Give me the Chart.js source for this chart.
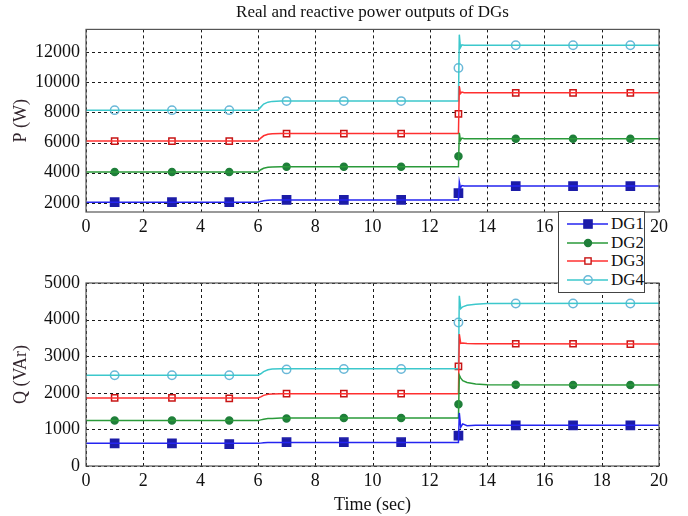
<!DOCTYPE html>
<html>
<head>
<meta charset="utf-8">
<script src="https://cdn.jsdelivr.net/npm/chart.js@4"></script>
<style>
  body { margin: 0; background: #fff; }
  #wrap { position: relative; width: 688px; height: 516px; }
  #cP { position: absolute; left: 0; top: 0; }
  #cQ { position: absolute; left: 0; top: 250px; }
  #legend {
    position: absolute; left: 558px; top: 211px; width: 87px; height: 82px;
    box-sizing: border-box; border: 1px solid #444; background: #fff;
    font-family: "Liberation Serif", "Times New Roman", serif; font-size: 17px; color: #111;
  }
  .row { position: absolute; left: 0; height: 18px; width: 86px; }
  .row svg { position: absolute; left: 6px; top: 2px; }
  .row span { position: absolute; left: 52px; top: -1px; line-height: 20px; }
</style>
</head>
<body>
<div id="wrap">
  <canvas id="cP" width="688" height="250"></canvas>
  <canvas id="cQ" width="688" height="266"></canvas>
  <div id="legend"></div>
</div>
<script>
const names = ['DG1', 'DG2', 'DG3', 'DG4'];
const xTicks = [0, 2, 4, 6, 8, 10, 12, 14, 16, 18, 20];
const yTicksP = [2000, 4000, 6000, 8000, 10000, 12000];
const yTicksQ = [0, 1000, 2000, 3000, 4000, 5000];

// trace of real power (W)
const tP = [0, 6, 6.1, 6.2, 6.35, 6.5, 6.8, 13, 13.03, 13.07, 13.12, 13.2, 20];
const p1 = [2050, 2050, 2100, 2150, 2180, 2195, 2200, 2200, 3400, 3000, 3150, 3120, 3120];
const p2 = [4050, 4050, 4200, 4300, 4360, 4385, 4400, 4400, 6650, 6150, 6300, 6250, 6250];
const p3 = [6100, 6100, 6300, 6450, 6550, 6590, 6600, 6600, 9750, 9250, 9350, 9300, 9300];
const p4 = [8150, 8150, 8350, 8550, 8680, 8730, 8750, 8750, 13150, 12300, 12480, 12450, 12450];

// trace of reactive power (VAr)
const tQ = [0, 6, 6.1, 6.2, 6.35, 6.5, 6.8, 13, 13.03, 13.08, 13.15, 13.3, 13.6, 14, 20];
const q1 = [620, 620, 625, 635, 640, 645, 645, 645, 1450, 1060, 1150, 1100, 1110, 1110, 1110];
const q2 = [1240, 1240, 1260, 1280, 1295, 1300, 1310, 1310, 2480, 2400, 2330, 2280, 2240, 2220, 2210];
const q3 = [1860, 1860, 1890, 1930, 1960, 1970, 1975, 1975, 3600, 3350, 3360, 3350, 3340, 3340, 3330];
const q4 = [2480, 2480, 2520, 2580, 2630, 2650, 2655, 2655, 4650, 4300, 4350, 4390, 4420, 4440, 4450];

// marker samples
const tM = [1, 3, 5, 7, 9, 11, 13, 15, 17, 19];
const mP1 = [2050, 2050, 2050, 2200, 2200, 2200, 2650, 3120, 3120, 3120];
const mP2 = [4050, 4050, 4050, 4400, 4400, 4400, 5100, 6250, 6250, 6250];
const mP3 = [6100, 6100, 6100, 6600, 6600, 6600, 7900, 9300, 9300, 9300];
const mP4 = [8150, 8150, 8150, 8750, 8750, 8750, 10950, 12450, 12450, 12450];
const mQ1 = [620, 620, 600, 650, 650, 650, 830, 1110, 1110, 1110];
const mQ2 = [1240, 1240, 1240, 1300, 1310, 1310, 1690, 2220, 2210, 2210];
const mQ3 = [1860, 1860, 1850, 1975, 1975, 1975, 2720, 3340, 3340, 3330];
const mQ4 = [2480, 2480, 2480, 2640, 2650, 2650, 3920, 4440, 4440, 4440];

const styles = [
  { line: '#2424f0', edge: '#1c1ca8', fill: '#1c1ca8', shape: 'rect', r: 5.8 },
  { line: '#2a9a3a', edge: '#1f7f3a', fill: '#1f7f3a', shape: 'circle', r: 3.5 },
  { line: '#ff3030', edge: '#c81414', fill: '#ffffff', shape: 'rect', r: 4.4 },
  { line: '#3cc8cc', edge: '#6ab8d8', fill: 'rgba(255,255,255,0)', shape: 'circle', r: 4.2 }
];
const serif = '"Liberation Serif", "Times New Roman", serif';

function pts(xs, ys) { return xs.map((x, i) => ({ x: x, y: ys[i] })); }

function makeSets(t, traces, marks) {
  const sets = [];
  traces.forEach((ys, i) => {
    sets.push({ data: pts(t, ys), showLine: true, pointRadius: 0, borderColor: styles[i].line, borderWidth: 1.5 });
  });
  marks.forEach((ys, i) => {
    const s = styles[i];
    sets.push({ data: pts(tM, ys), showLine: false, pointStyle: s.shape, pointRadius: s.r,
      backgroundColor: s.fill, borderColor: s.edge, borderWidth: 1.5 });
  });
  return sets;
}

// dotted grid under the data, solid frame on top
const frame = {
  id: 'frame',
  beforeDatasetsDraw(chart) {
    const a = chart.chartArea, ctx = chart.ctx;
    const xs = chart.scales.x, ys = chart.scales.y;
    ctx.save();
    ctx.strokeStyle = '#1a1a1a';
    ctx.lineWidth = 1;
    ctx.setLineDash([3, 3]);
    ctx.beginPath();
    xs.ticks.forEach(t => {
      const px = Math.round(xs.getPixelForValue(t.value)) + 0.5;
      ctx.moveTo(px, a.top); ctx.lineTo(px, a.bottom);
    });
    ys.ticks.forEach(t => {
      const py = Math.round(ys.getPixelForValue(t.value)) + 0.5;
      ctx.moveTo(a.left, py); ctx.lineTo(a.right, py);
    });
    ctx.stroke();
    ctx.restore();
  },
  afterDraw(chart) {
    const a = chart.chartArea, ctx = chart.ctx;
    ctx.save();
    ctx.strokeStyle = '#555';
    ctx.lineWidth = 1.2;
    ctx.strokeRect(a.left, a.top, a.right - a.left, a.bottom - a.top);
    ctx.restore();
  }
};

function makeOptions(o) {
  return {
    responsive: false,
    animation: false,
    layout: { padding: { top: o.padTop, right: 29, left: 0, bottom: 0 } },
    plugins: {
      legend: { display: false },
      tooltip: { enabled: false },
      title: o.title ? {
        display: true, text: o.title, fullSize: false, color: '#111',
        font: { family: serif, size: 17, weight: 'normal', lineHeight: 1.2 },
        padding: { top: 2, bottom: 7 }
      } : { display: false }
    },
    scales: {
      x: {
        type: 'linear', min: 0, max: 20,
        afterBuildTicks: s => { s.ticks = xTicks.map(v => ({ value: v })); },
        afterFit: s => { s.height = o.xHeight; },
        grid: { display: false, drawTicks: false, tickLength: 0 },
        border: { display: false },
        ticks: { color: '#111', padding: 4, font: { family: serif, size: 18 }, callback: v => String(v) },
        title: o.xTitle ? { display: true, text: o.xTitle, color: '#111',
          font: { family: serif, size: 18 }, padding: { top: 4, bottom: 0 } } : { display: false }
      },
      y: {
        type: 'linear', min: o.yMin, max: o.yMax,
        afterBuildTicks: s => { s.ticks = o.yTicks.map(v => ({ value: v })); },
        afterFit: s => { s.width = 86; },
        grid: { display: false, drawTicks: false, tickLength: 0 },
        border: { display: false },
        ticks: { color: '#111', padding: 6, font: { family: serif, size: 18 }, callback: v => String(v) },
        title: { display: true, text: o.yTitle, color: '#33262e',
          font: { family: serif, size: 18 }, padding: { top: 10, bottom: 0 } }
      }
    }
  };
}

new Chart(document.getElementById('cP'), {
  type: 'scatter',
  data: { datasets: makeSets(tP, [p1, p2, p3, p4], [mP1, mP2, mP3, mP4]) },
  options: makeOptions({ padTop: 0, title: 'Real and reactive power outputs of DGs', xHeight: 38,
    yMin: 1400, yMax: 13500, yTicks: yTicksP, yTitle: 'P (W)' }),
  plugins: [frame]
});

new Chart(document.getElementById('cQ'), {
  type: 'scatter',
  data: { datasets: makeSets(tQ, [q1, q2, q3, q4], [mQ1, mQ2, mQ3, mQ4]) },
  options: makeOptions({ padTop: 33, xHeight: 50, xTitle: 'Time (sec)',
    yMin: 0, yMax: 5000, yTicks: yTicksQ, yTitle: 'Q (VAr)' }),
  plugins: [frame]
});

// legend with line + marker, shared by both panels
const legend = document.getElementById('legend');
names.forEach((name, i) => {
  const s = styles[i];
  const row = document.createElement('div');
  row.className = 'row';
  row.style.top = (3 + i * 18.7) + 'px';
  const mk = s.shape === 'rect'
    ? `<rect x="${23 - s.r * 0.707}" y="${7 - s.r * 0.707}" width="${s.r * 1.414}" height="${s.r * 1.414}" fill="${s.fill}" stroke="${s.edge}" stroke-width="1.4"/>`
    : `<circle cx="23" cy="7" r="${s.r}" fill="${s.fill === 'rgba(255,255,255,0)' ? 'none' : s.fill}" stroke="${s.edge}" stroke-width="1.4"/>`;
  row.innerHTML = `<svg width="44" height="14"><line x1="2" y1="7" x2="43" y2="7" stroke="${s.line}" stroke-width="1.3"/>${mk}</svg><span>${name}</span>`;
  legend.appendChild(row);
});
</script>
</body>
</html>
